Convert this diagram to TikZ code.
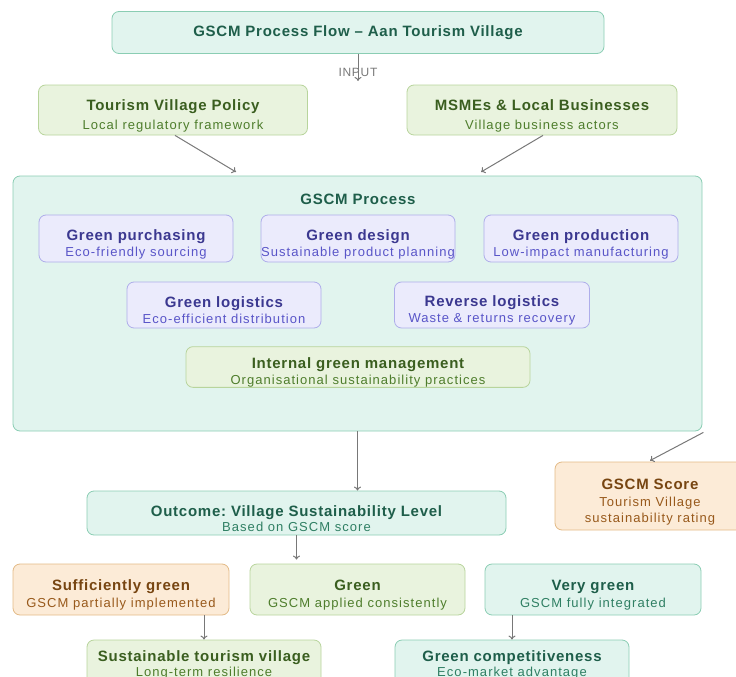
\documentclass[tikz,border=0pt]{standalone}
\usepackage{fontspec}
\setmainfont{Liberation Sans}[LetterSpace=5]
\usetikzlibrary{arrows.meta}
\frenchspacing

\definecolor{mintfill}{HTML}{E1F4EE}
\definecolor{mintline}{HTML}{8ACDB3}
\definecolor{minttext}{HTML}{1E5E4A}
\definecolor{mintsub}{HTML}{2F7F63}
\definecolor{greenfill}{HTML}{E9F3DE}
\definecolor{greenline}{HTML}{B8D49C}
\definecolor{greentext}{HTML}{3A5E1F}
\definecolor{greensub}{HTML}{4E7D2C}
\definecolor{purplefill}{HTML}{EBEBFC}
\definecolor{purpleline}{HTML}{AEADEA}
\definecolor{purpletext}{HTML}{3B3890}
\definecolor{purplesub}{HTML}{5955C8}
\definecolor{orangefill}{HTML}{FCEBD7}
\definecolor{orangeline}{HTML}{E3BA86}
\definecolor{orangetext}{HTML}{774511}
\definecolor{orangesub}{HTML}{98591B}
\definecolor{arrowgray}{HTML}{787878}

% heading line carries a strut so the text block sits a bit low, as drawn
\newcommand\boxhead[2][22pt]{\rule{0pt}{#1}{\bfseries #2}}
\newcommand\boxsub[1]{{\fontsize{13}{14}\selectfont\addfontfeature{LetterSpace=8}\color{subc}#1}}

\tikzset{
    every node/.style={font=\fontsize{15}{16}\selectfont, align=center, inner sep=0pt}
}
\tikzset{
    box/.style 2 args={draw, rounded corners=7pt, line width=0.8pt,
        minimum width=#1, minimum height=#2},
    mint/.style={fill=mintfill, draw=mintline, text=minttext,
        execute at begin node=\colorlet{subc}{mintsub}},
    leaf/.style={fill=greenfill, draw=greenline, text=greentext,
        execute at begin node=\colorlet{subc}{greensub}},
    lilac/.style={fill=purplefill, draw=purpleline, text=purpletext,
        execute at begin node=\colorlet{subc}{purplesub}},
    amber/.style={fill=orangefill, draw=orangeline, text=orangetext,
        execute at begin node=\colorlet{subc}{orangesub}}
}
\tikzset{
    flow/.style={draw=arrowgray, line width=1pt, -{To[length=4pt,width=7pt]}}
}

\begin{document}
\begin{tikzpicture}[x=1pt, y=-1pt]
	\useasboundingbox (0,0) rectangle (736,677);

	\node (title) [box={492pt}{42pt}, mint, font=\fontsize{15}{16}\selectfont\bfseries] at (358, 32.5) {GSCM Process Flow -- Aan Tourism Village};
	\node (input) [text=arrowgray, font=\fontsize{12}{13}\selectfont\addfontfeature{LetterSpace=6}] at (358, 72) {INPUT};
	\coordinate (inputend) at (358, 81);

	\node (policy) [box={269pt}{50pt}, leaf] at (173, 110) {\boxhead{Tourism Village Policy}\\[3pt]\boxsub{Local regulatory framework}};
	\node (msme) [box={270pt}{50pt}, leaf] at (542, 110) {\boxhead{MSMEs \& Local Businesses}\\[3pt]\boxsub{Village business actors}};

	\node (proc) [box={689pt}{255pt}, mint] at (357.5, 303.5) {};
	\node (proctitle) [text=minttext, font=\fontsize{15}{16}\selectfont\bfseries] at (358, 199) {GSCM Process};
	\coordinate (policyend) at (236, 172);
	\coordinate (msmeend) at (481, 172);

	\node (purch) [box={194pt}{47pt}, lilac] at (136, 238.5) {\boxhead{Green purchasing}\\\boxsub{Eco-friendly sourcing}};
	\node (design) [box={194pt}{47pt}, lilac] at (358, 238.5) {\boxhead{Green design}\\\boxsub{Sustainable product planning}};
	\node (prod) [box={194pt}{47pt}, lilac] at (581, 238.5) {\boxhead{Green production}\\\boxsub{Low-impact manufacturing}};
	\node (logi) [box={194pt}{46pt}, lilac] at (224, 305) {\boxhead{Green logistics}\\\boxsub{Eco-efficient distribution}};
	\node (revlogi) [box={195pt}{46pt}, lilac] at (492, 305) {\boxhead{Reverse logistics}\\\boxsub{Waste \& returns recovery}};
	\node (internal) [box={344pt}{39pt}, leaf] at (358, 367) {\boxhead{Internal green management}\\\boxsub{Organisational sustainability practices}};

	\node (score) [box={190pt}{68pt}, amber] at (650, 496) {\boxhead{GSCM Score}\\[1pt]\boxsub{Tourism Village}\\\boxsub{sustainability rating}};
	\node (outcome) [box={419pt}{44pt}, mint] at (296.5, 513) {\boxhead{Outcome: Village Sustainability Level}\\[-1pt]\boxsub{Based on GSCM score}};

	\node (suff) [box={216pt}{51pt}, amber] at (121, 589.5) {\boxhead{Sufficiently green}\\[1pt]\boxsub{GSCM partially implemented}};
	\node (green) [box={215pt}{51pt}, leaf] at (357.5, 589.5) {\boxhead{Green}\\[1pt]\boxsub{GSCM applied consistently}};
	\node (verygreen) [box={216pt}{51pt}, mint] at (593, 589.5) {\boxhead{Very green}\\[1pt]\boxsub{GSCM fully integrated}};

	\node (sustain) [box={234pt}{48pt}, leaf] at (204, 664) {\boxhead[13pt]{Sustainable tourism village}\\[-1pt]\boxsub{Long-term resilience}};
	\node (compet) [box={234pt}{48pt}, mint] at (512, 664) {\boxhead[13pt]{Green competitiveness}\\[-1pt]\boxsub{Eco-market advantage}};

	\draw [flow] (title) -- (inputend);
	\draw [flow] ([xshift=2pt]policy.south) -- (policyend);
	\draw [flow] ([xshift=1pt]msme.south) -- (msmeend);
	\draw [flow] (proc.south) -- (proc.south |- outcome.north);
	\draw [flow] ([xshift=1pt, yshift=-1pt]proc.south east) -- ([yshift=1pt]score.north);
	\draw [flow, shorten >=4pt] (outcome.south) -- (outcome.south |- green.north);
	\draw [flow] (sustain.north |- suff.south) -- (sustain.north);
	\draw [flow] (compet.north |- verygreen.south) -- (compet.north);
\end{tikzpicture}
\end{document}
